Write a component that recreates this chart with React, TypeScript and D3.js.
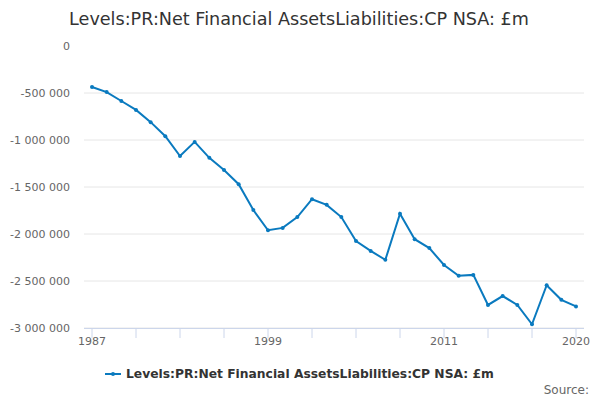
import * as d3 from 'd3'

const years = d3.range(1987, 2021)
const values = [
  -436000, -490000, -585000, -680000, -810000, -960000, -1170000, -1020000, -1190000, -1320000,
  -1470000, -1745000, -1960000, -1935000, -1820000, -1630000, -1690000, -1820000, -2075000, -2180000,
  -2275000, -1785000, -2055000, -2150000, -2330000, -2445000, -2435000, -2755000, -2660000, -2755000,
  -2960000, -2545000, -2700000, -2770000,
]
const yTicks = [0, -500000, -1000000, -1500000, -2000000, -2500000, -3000000]
const xLabels = [1987, 1999, 2011, 2020]
const title = 'Levels:PR:Net Financial AssetsLiabilities:CP NSA: £m'

const fmt = (v: number) => (v === 0 ? '0' : d3.format(',')(v).replace(/,/g, ' ').replace('−', '-'))

export default function App() {
  const x = d3.scaleLinear().domain([1987, 2020]).range([92, 576])
  const y = d3.scaleLinear().domain([-3000000, 0]).range([328, 46])
  const line = d3.line<number>().x((_, i) => x(years[i])).y(d => y(d))
  const color = '#0a7abf'
  const font = 'DejaVu Sans, sans-serif'
  return (
    <svg width={600} height={400} style={{ position: 'absolute', left: 0, top: 0, fontFamily: font }}>
      <rect width={600} height={400} fill="#fff" />
      <text x={299} y={25} textAnchor="middle" fontSize={17.6} fill="#333">{title}</text>
      {yTicks.map(t => (
        <g key={t}>
          {t !== 0 && <line x1={84} x2={584} y1={y(t)} y2={y(t)} stroke="#e6e6e6" />}
          <text x={70} y={y(t) + 4} textAnchor="end" fontSize={11} fill="#666">{fmt(t)}</text>
        </g>
      ))}
      <line x1={84} x2={584} y1={328.5} y2={328.5} stroke="#ccd6eb" />
      {d3.range(1987, 2021, 3).map(yr => (
        <line key={yr} x1={x(yr)} x2={x(yr)} y1={328} y2={338} stroke="#ccd6eb" />
      ))}
      {xLabels.map(yr => (
        <text key={yr} x={x(yr)} y={345} textAnchor="middle" fontSize={11} fill="#666">{yr}</text>
      ))}
      <path d={line(values) ?? ''} fill="none" stroke={color} strokeWidth={2} />
      {values.map((v, i) => (
        <circle key={i} cx={x(years[i])} cy={y(v)} r={2} fill={color} />
      ))}
      <line x1={105} x2={121} y1={374} y2={374} stroke={color} strokeWidth={2} />
      <circle cx={113} cy={374} r={2} fill={color} />
      <text x={126} y={378} fontSize={12.3} fontWeight="bold" fill="#333">{title}</text>
      <text x={589} y={394} textAnchor="end" fontSize={12} fill="#666">Source:</text>
    </svg>
  )
}
